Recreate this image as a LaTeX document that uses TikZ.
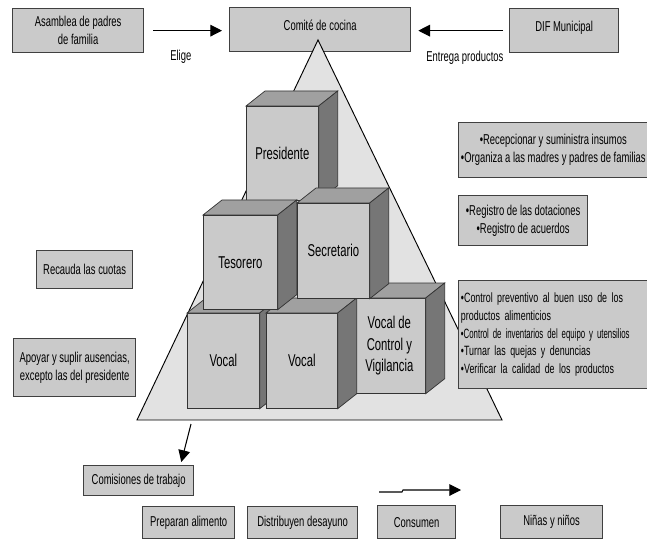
\documentclass[tikz,border=0pt]{standalone}
\usepackage{fontspec}
\setmainfont{Liberation Sans}[FakeStretch=0.66]
\usetikzlibrary{
    arrows.meta,
    calc,
    positioning
}

\definecolor{boxgray}{RGB}{202,202,202}
\definecolor{pyrgray}{RGB}{226,226,226}
\definecolor{topgray}{RGB}{160,160,160}
\definecolor{sidegray}{RGB}{118,118,118}

% one unit of the grid below
\newlength{\pxu}
\setlength{\pxu}{0.03cm}
\newcommand{\boxfont}{\fontsize{12.2}{15.5}\selectfont}
\newcommand{\listfont}{\fontsize{11.5}{15}\selectfont}
\newcommand{\cubefont}{\fontsize{14.6}{18.5}\selectfont}

% top and right faces of a block whose front is the node #1
\newcommand{\cubefaces}[1]{%
    \filldraw[cubetop] (#1.north west) -- ++(19,-15) -- ($(#1.north east)+(19,-15)$) -- (#1.north east) -- cycle;
    \filldraw[cubeside] (#1.north east) -- ++(19,-15) -- ($(#1.south east)+(19,-15)$) -- (#1.south east) -- cycle;}

\tikzset{
    box/.style={draw=black!75, line width=1.1pt, fill=boxgray, font=\boxfont,
        align=center, inner sep=2pt, anchor=north west},
    cubefront/.style={draw=black!80, line width=0.6pt, fill=boxgray, font=\cubefont,
        align=center, anchor=north west},
    cubetop/.style={draw=black!80, line width=0.6pt, fill=topgray},
    cubeside/.style={draw=black!80, line width=0.6pt, fill=sidegray},
    pyramid/.style={draw=black, line width=0.8pt, fill=pyrgray},
    link/.style={-{Triangle[length=10pt,width=10pt]}, line width=0.9pt},
    caption/.style={font=\boxfont}
}

\begin{document}
\begin{tikzpicture}[x=0.03cm, y=-0.03cm]
    \useasboundingbox (0,0) rectangle (647,540);

    % top row
    \node[box, minimum width=131\pxu, minimum height=44\pxu] (asamblea) at (12,8) {Asamblea de padres\\de familia};
    \node[box, minimum width=181\pxu, minimum height=44\pxu, text depth=8\pxu] (comite) at (229,7) {Comité de cocina};
    \node[box, minimum width=109\pxu, minimum height=44\pxu, text depth=8\pxu] (dif) at (509,8) {DIF Municipal};

    \draw[link] ([xshift=9\pxu]asamblea.east) -- ([xshift=-7\pxu]asamblea.east -| comite.west)
        node[caption, pos=0.4, below=15\pxu] (elige) {Elige};
    \draw[link] ([xshift=-6\pxu]dif.west) -- ([xshift=7\pxu]dif.west -| comite.east)
        node[caption, pos=0.45, below=16\pxu] (entrega) {Entrega productos};

    % the pyramid
    \filldraw[pyramid] (318,40) coordinate (apex) -- (502,420) coordinate (baseR)
        -- (137,420) coordinate (baseL) -- cycle;

    % blocks, back to front
    \node[cubefront, minimum width=72\pxu, minimum height=94\pxu] (presidente) at (246,106) {Presidente};
    \cubefaces{presidente}
    \node[cubefront, minimum width=72\pxu, minimum height=95\pxu] (vigilancia) at (353,298) {Vocal de\\Control y\\Vigilancia};
    \cubefaces{vigilancia}
    \node[cubefront, minimum width=72\pxu, minimum height=95\pxu] (vocalA) at (187,313) {\raisebox{-6\pxu}{Vocal}};
    \cubefaces{vocalA}
    \node[cubefront, minimum width=71\pxu, minimum height=95\pxu] (vocalB) at (266,313) {\raisebox{-6\pxu}{Vocal}};
    \cubefaces{vocalB}
    \node[cubefront, minimum width=74\pxu, minimum height=94\pxu] (tesorero) at (203,215) {\raisebox{-6\pxu}{Tesorero}};
    \cubefaces{tesorero}
    \node[cubefront, minimum width=72\pxu, minimum height=95\pxu] (secretario) at (297,203) {Secretario};
    \cubefaces{secretario}

    % duties
    \node[box, minimum width=188\pxu, minimum height=55\pxu] (tareaspres) at (458,122)
        {\textbullet Recepcionar y suministra insumos\\\textbullet Organiza a las madres y padres de familias};
    \node[box, minimum width=129\pxu, minimum height=50\pxu] (tareassec) at (458,195)
        {\textbullet Registro de las dotaciones\\\textbullet Registro de acuerdos};
    \node[box, font=\listfont, minimum height=108\pxu, text width=200\pxu, align=left] (tareasvig) at (458,280)
        {\textbullet Control preventivo al buen uso de los\\
         productos alimenticios\\
         \scalebox{0.88}[1]{\textbullet Control de inventarios del equipo y utensilios}\\
         \textbullet Turnar las quejas y denuncias\\
         \textbullet Verificar la calidad de los productos};
    \node[box, minimum width=96\pxu, minimum height=38\pxu] (recauda) at (36,250) {Recauda las cuotas};
    \node[box, minimum width=122\pxu, minimum height=58\pxu] (apoyar) at (13,338)
        {Apoyar y suplir ausencias,\\excepto las del presidente};

    % bottom
    \node[box, minimum width=110\pxu, minimum height=30\pxu] (comisiones) at (83,465) {Comisiones de trabajo};
    \coordinate (comtail) at (191,424);
    \draw[link] (comtail) -- ([xshift=-13\pxu,yshift=3\pxu]comisiones.north east);

    \node[box, minimum width=92\pxu, minimum height=32\pxu] (preparan) at (142,506) {Preparan alimento};
    \node[box, minimum width=110\pxu, minimum height=32\pxu] (distribuyen) at (247,506) {Distribuyen desayuno};
    \node[box, minimum width=78\pxu, minimum height=33\pxu] (consumen) at (377,505) {Consumen};
    \node[box, minimum width=102\pxu, minimum height=33\pxu] (ninos) at (500,505) {Niñas y niños};

    \coordinate (flujoA) at (379,492);
    \coordinate (flujoB) at (461,490);
    \draw[link] (flujoA) -- ++(23,0) -- ++(1,-2) -- (flujoB);
\end{tikzpicture}
\end{document}
